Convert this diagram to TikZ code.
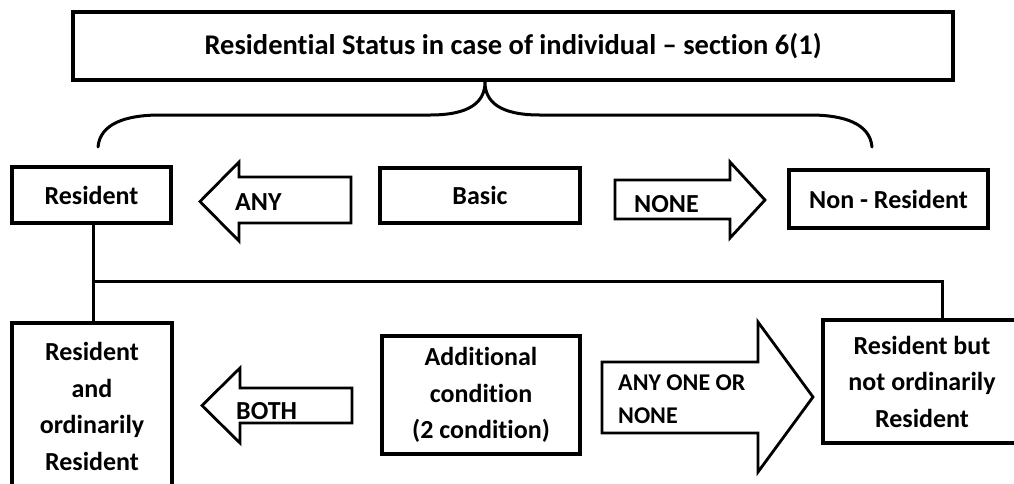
\documentclass[tikz,border=0pt]{standalone}
\usepackage{fontspec}
\setmainfont{Carlito}[Ligatures=NoCommon]
\begin{document}
\begin{tikzpicture}[x=1pt,y=-1pt,line join=miter,
  txt/.style={font=\bfseries\fontsize{26}{36.5}\selectfont},
  box/.style={draw,line width=3.2pt,inner sep=0pt,align=center,txt},
  blockarrow/.style={draw,line width=2.8pt,fill=white},
  arrowtext/.style={txt,inner sep=0pt,anchor=west,align=left},
  link/.style={line width=3pt},
  brace/.style={line width=3pt,line cap=round}]
\clip (0,0) rectangle (1014,483);

% title and status boxes
\node[box,minimum width=880,minimum height=68,font=\bfseries\fontsize{28.5}{34}\selectfont]
  (title) at (513,46) {Residential Status in case of individual -- section 6(1)};
\node[box,minimum width=159,minimum height=56] (res) at (91.5,195) {Resident};
\node[box,minimum width=200,minimum height=55] (basic) at (480,195.5) {Basic};
\node[box,minimum width=199,minimum height=58] (nonres) at (888.5,199) {Non - Resident};
\node[box,minimum width=160,minimum height=167] (ror) at (92,406.5)
  {Resident\\and\\ordinarily\\Resident};
\node[box,minimum width=198,minimum height=118] (add) at (481,395)
  {Additional\\condition\\(2 condition)};
\node[box,minimum width=198,minimum height=123] (rnor) at (922,381.5)
  {Resident but\\not ordinarily\\Resident};

% brace under the title
\coordinate (btip) at (485,82);
\draw[brace] (98,147) .. controls (100,124) and (125,115) .. (160,115)
  -- (430,115) .. controls (470,115) and (485,102) .. (btip)
  .. controls (485,102) and (500,115) .. (540,115)
  -- (810,115) .. controls (845,115) and (870,124) .. (872,147);

% block arrows
\draw[blockarrow] (351,177) -- (239,177) -- (239,162) -- (200,201.5)
  -- (239,241) -- (239,223) -- (351,223) -- cycle;
\node[arrowtext] (tany) at (235,202) {ANY};

\draw[blockarrow] (615,180) -- (730,180) -- (730,162) -- (765,200)
  -- (730,238) -- (730,219) -- (615,219) -- cycle;
\node[arrowtext] (tnone) at (634,204) {NONE};

\draw[blockarrow] (352,388) -- (240,388) -- (240,368) -- (202,405.5)
  -- (240,443) -- (240,423) -- (352,423) -- cycle;
\node[arrowtext] (tboth) at (236,411) {BOTH};

\draw[blockarrow] (602,362) -- (758,362) -- (758,322) -- (813,397)
  -- (758,472) -- (758,433) -- (602,433) -- cycle;
\node[arrowtext,font=\bfseries\fontsize{24}{33}\selectfont] (tanyone) at (618,399)
  {ANY ONE OR\\NONE};

% links from Resident to its two kinds
\coordinate (split) at (93,281);
\draw[link] (res.south -| split) -- (ror.north -| split);
\draw[link] (split) -| ([xshift=20pt]rnor.north);
\end{tikzpicture}
\end{document}
